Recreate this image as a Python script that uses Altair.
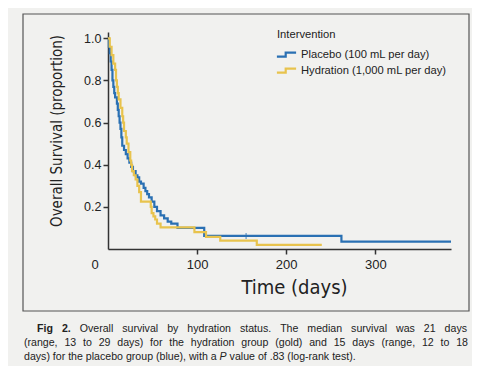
import altair as alt
import pandas as pd

BLUE = "#2a70b3"
GOLD = "#e8c34d"
NARROW = "DejaVu Sans Condensed, Liberation Sans, sans-serif"
SANS = "Liberation Sans, Arial, sans-serif"

placebo_label = "Placebo (100 mL per day)"
hydration_label = "Hydration (1,000 mL per day)"

placebo_t = [0, 1, 2, 3, 4, 5, 6, 7, 8, 10, 11, 12, 13, 14, 15, 16, 18, 20, 22, 24,
             26, 28, 31, 33, 35, 37, 40, 42, 44, 46, 49, 52, 55, 59, 63, 67, 71, 78, 108, 262]
placebo_s = [1.0, 0.96, 0.93, 0.89, 0.85, 0.80, 0.77, 0.74, 0.72, 0.69,
             0.66, 0.63, 0.60, 0.57, 0.53, 0.49, 0.47, 0.45, 0.43, 0.41,
             0.39, 0.37, 0.35, 0.34, 0.32, 0.31, 0.29, 0.275, 0.26, 0.245,
             0.225, 0.20, 0.18, 0.16, 0.145, 0.13, 0.12, 0.10, 0.062, 0.035]
placebo_end = 385
placebo_censor_t = [155]

hydration_t = [0, 2, 4, 6, 8, 9, 10, 11, 12, 14, 16, 17, 18, 20, 21, 23, 25, 26, 27, 29,
               31, 33, 35, 37, 48, 49, 51, 53, 55, 59, 97, 110, 126, 167]
hydration_s = [1.0, 0.96, 0.92, 0.88, 0.85, 0.80, 0.77, 0.74, 0.71, 0.67,
               0.63, 0.60, 0.56, 0.53, 0.50, 0.46, 0.42, 0.40, 0.37, 0.35,
               0.33, 0.30, 0.27, 0.225, 0.20, 0.17, 0.155, 0.14, 0.12, 0.103,
               0.08, 0.058, 0.04, 0.02]
hydration_end = 240

x_ticks = [100, 200, 300]
y_ticks = [0.2, 0.4, 0.6, 0.8, 1.0]

caption_lines = [
    "Fig 2. Overall survival by hydration status. The median survival was 21 days",
    "(range, 13 to 29 days) for the hydration group (gold) and 15 days (range, 12 to 18",
    "days) for the placebo group (blue), with a P value of .83 (log-rank test).",
]
caption_bold_words = ["Fig", "2."]
caption_italic_words = ["P"]

# ---------------------------------------------------------------- data table
rows = []
for t, s in zip(placebo_t + [placebo_end], placebo_s + [placebo_s[-1]]):
    rows.append({"group": placebo_label, "t": t, "s": s, "order": len(rows)})
for t, s in zip(hydration_t + [hydration_end], hydration_s + [hydration_s[-1]]):
    rows.append({"group": hydration_label, "t": t, "s": s, "order": len(rows)})
df = pd.DataFrame(rows)

censor = pd.DataFrame({"t": placebo_censor_t, "s": [placebo_s[-2]] * len(placebo_censor_t)})

# ---------------------------------------------------------------- caption layout (justified)
CAP_SIZE = 10.6
ARIAL = {c: 556 for c in "abdeghnopqu0123456789"}
ARIAL.update({"c": 500, "k": 500, "s": 500, "v": 500, "x": 500, "y": 500, "z": 500,
              "f": 278, "t": 278, "i": 222, "j": 222, "l": 222, "m": 833, "r": 333,
              "w": 722, "F": 611, "O": 778, "T": 611, "P": 667, "(": 333, ")": 333,
              ",": 278, ".": 278, "-": 333, " ": 278})
ARIAL_BOLD = dict(ARIAL)
ARIAL_BOLD.update({"i": 278, "g": 611, "F": 611})


def wwidth(word, bold=False):
    table = ARIAL_BOLD if bold else ARIAL
    return sum(table.get(c, 556) for c in word) * CAP_SIZE / 1000.0


ORIGIN_X, ORIGIN_Y = 108, 32  # page position of the plot origin
line_specs = [(37, 467, 329, True), (24, 468, 343, True), (24, None, 357, False)]
cap_rows = []
for text, (x0, x1, yy, justify) in zip(caption_lines, line_specs):
    words = text.split(" ")
    widths = [wwidth(w, w in caption_bold_words) for w in words]
    if justify:
        gap = (x1 - x0 - sum(widths)) / (len(words) - 1)
    else:
        gap = 278 * CAP_SIZE / 1000.0
    x = x0
    for w, wd in zip(words, widths):
        style = "bold" if w in caption_bold_words else ("italic" if w in caption_italic_words else "normal")
        cap_rows.append({"word": w, "px": x - ORIGIN_X, "py": yy - ORIGIN_Y, "style": style})
        x += wd + gap
cap_df = pd.DataFrame(cap_rows)

# ---------------------------------------------------------------- chart
W, H = 343, 217
xscale = alt.Scale(domain=[0, 385], nice=False)
yscale = alt.Scale(domain=[0, 1.03], nice=False)

lines = alt.Chart(df).mark_line(interpolate="step-after", strokeWidth=2.2).encode(
    x=alt.X("t:Q", scale=xscale,
            axis=alt.Axis(values=x_ticks, title="Time (days)", titleFont=NARROW,
                          titleFontSize=20, titleFontWeight="normal", titleColor="#222",
                          titlePadding=6, titleX=186, labelFontSize=13, labelPadding=4)),
    y=alt.Y("s:Q", scale=yscale,
            axis=alt.Axis(values=y_ticks, format=".1f", title=None, labelFontSize=12.5,
                          labelPadding=2)),
    color=alt.Color("group:N",
                    scale=alt.Scale(domain=[placebo_label, hydration_label], range=[BLUE, GOLD]),
                    legend=alt.Legend(title="Intervention", orient="none", legendX=169, legendY=-3,
                                      symbolType="M -1.2 0.25 L -0.1 0.25 L -0.1 -0.25 L 1.2 -0.25",
                                      symbolSize=256, symbolStrokeWidth=2.2,
                                      symbolFillColor="transparent",
                                      labelFont=SANS, labelFontSize=11.2, labelColor="#222",
                                      titleFont=SANS, titleFontSize=11.2, titleFontWeight="normal",
                                      titleColor="#222", titlePadding=5, rowPadding=0,
                                      labelOffset=5, padding=0)),
    detail="group:N",
    order="order:Q",
)

ticks = alt.Chart(censor).mark_tick(color=BLUE, thickness=1.2, size=6, orient="vertical").encode(
    x=alt.X("t:Q", scale=xscale), y=alt.Y("s:Q", scale=yscale)
)

frame = alt.Chart(pd.DataFrame({"a": [0]})).mark_rect(
    fill=None, stroke="#555", strokeWidth=1.2
).encode(x=alt.value(-85), x2=alt.value(361), y=alt.value(-18), y2=alt.value(279))

ytitle = alt.Chart(pd.DataFrame({"txt": ["Overall Survival (proportion)"]})).mark_text(
    angle=270, font=NARROW, fontSize=15, color="#222", baseline="middle", align="center"
).encode(x=alt.value(-51), y=alt.value(99), text="txt:N")

zero = alt.Chart(pd.DataFrame({"txt": ["0"]})).mark_text(
    font=SANS, fontSize=13, color="#222", baseline="middle", align="center"
).encode(x=alt.value(-13), y=alt.value(233), text="txt:N")

caps = []
for style, fw, fs in [("normal", "normal", "normal"), ("bold", "bold", "normal"),
                      ("italic", "normal", "italic")]:
    caps.append(alt.Chart(cap_df[cap_df["style"] == style]).mark_text(
        font=SANS, fontSize=CAP_SIZE, color="#222", baseline="middle", align="left",
        fontWeight=fw, fontStyle=fs
    ).encode(x=alt.X("px:Q", scale=None), y=alt.Y("py:Q", scale=None), text="word:N"))

chart = alt.layer(frame, lines, ticks, ytitle, zero, *caps).properties(
    width=W, height=H, background="#f1f1ef",
    autosize=alt.AutoSizeParams(type="none"),
    padding={"left": 100, "top": 24, "right": 21, "bottom": 117},
).configure_view(stroke=None).configure_axis(
    domainColor="#333", domainWidth=1.5, tickColor="#333", tickWidth=1.5, tickSize=5,
    grid=False, labelFont=SANS, labelColor="#222"
)

chart.save("out.html", embed_options={"renderer": "svg", "actions": False})
